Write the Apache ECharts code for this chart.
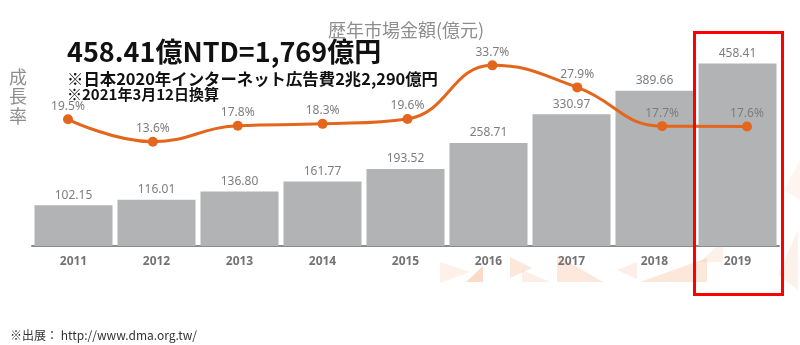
<!DOCTYPE html>
<html>
<head>
<meta charset="utf-8">
<script src="https://cdn.jsdelivr.net/npm/echarts@6/dist/echarts.min.js"></script>
<style>
  html, body { margin: 0; padding: 0; background: #ffffff; }
  #chart { width: 800px; height: 345px; }
</style>
</head>
<body>
<div id="chart"></div>
<script>
// Annual market size (100M NTD) and year-on-year growth rate (%)
const years = ['2011', '2012', '2013', '2014', '2015', '2016', '2017', '2018', '2019'];
const marketSize = [102.15, 116.01, 136.80, 161.77, 193.52, 258.71, 330.97, 389.66, 458.41];
const growthRate = [19.5, 13.6, 17.8, 18.3, 19.6, 33.7, 27.9, 17.7, 17.6];

const headline = '458.41億NTD=1,769億円';
const note1 = '※日本2020年インターネット広告費2兆2,290億円';
const note2 = '※2021年3月12日換算';
const sourceText = '※出展： http://www.dma.org.tw/';

const chart = echarts.init(document.getElementById('chart'), null, { renderer: 'canvas' });

const labelFont = '"Noto Sans", "Open Sans", sans-serif';
const cjkFont = '"Noto Sans CJK JP", "Noto Sans", sans-serif';

// faint decorative triangles along the bottom right
const tri = (pts, op) => ({
  type: 'polygon',
  silent: true,
  z: -1,
  shape: { points: pts },
  style: { fill: '#f2a070', opacity: op }
});

chart.setOption({
  animation: false,
  backgroundColor: '#ffffff',
  title: {
    text: '歴年市場金額(億元)',
    left: 323,
    top: 16,
    textStyle: { fontFamily: cjkFont, fontSize: 18, fontWeight: 'normal', color: '#8e8e8e' }
  },
  grid: [
    { left: 32, right: 21, top: 7, bottom: 99 },
    { left: 68, right: 53, top: 41.4, bottom: 151.6 }
  ],
  xAxis: [
    {
      type: 'category',
      gridIndex: 0,
      data: years,
      axisLine: { lineStyle: { color: '#8c8c8c', width: 2 } },
      axisTick: { show: false },
      axisLabel: { margin: 10, fontFamily: labelFont, fontSize: 12, fontWeight: 'bold', color: '#737373' }
    },
    {
      type: 'category',
      gridIndex: 1,
      data: years,
      boundaryGap: false,
      show: false
    }
  ],
  yAxis: [
    { type: 'value', gridIndex: 0, min: 0, max: 600, show: false, splitLine: { show: false } },
    { type: 'value', gridIndex: 1, min: 0, max: 40, show: false, splitLine: { show: false } }
  ],
  series: [
    {
      name: '市場金額',
      type: 'bar',
      xAxisIndex: 0,
      yAxisIndex: 0,
      data: marketSize,
      barCategoryGap: '6%',
      itemStyle: { color: '#b2b3b5' },
      label: {
        show: true,
        position: 'top',
        distance: 4,
        fontFamily: labelFont,
        fontSize: 12,
        color: '#7d7d7d',
        formatter: p => p.value.toFixed(2)
      }
    },
    {
      name: '成長率',
      type: 'line',
      xAxisIndex: 1,
      yAxisIndex: 1,
      data: growthRate,
      smooth: 0.45,
      symbol: 'circle',
      symbolSize: 10,
      lineStyle: { color: '#e4661c', width: 3 },
      itemStyle: { color: '#e4661c' },
      label: {
        show: true,
        position: 'top',
        distance: 2,
        fontFamily: labelFont,
        fontSize: 12,
        color: '#7d7d7d',
        formatter: p => p.value.toFixed(1) + '%'
      },
      z: 5
    }
  ],
  graphic: [
    tri([[440, 262], [470, 272], [440, 283]], 0.15),
    tri([[483, 266], [483, 282], [466, 282]], 0.38),
    tri([[510, 257], [532, 268], [510, 278]], 0.25),
    tri([[522, 270], [550, 282], [522, 282]], 0.17),
    tri([[557, 255], [557, 282], [603, 282]], 0.24),
    tri([[637, 262], [637, 279], [617, 270]], 0.17),
    tri([[707, 258], [707, 282], [640, 282]], 0.25),
    tri([[723, 240], [723, 262], [700, 262]], 0.15),
    tri([[800, 160], [800, 200], [784, 190]], 0.1),
    tri([[798, 230], [798, 290], [778, 275]], 0.14),
    {
      type: 'text',
      left: 67,
      top: 38,
      style: { text: headline, font: 'bold 27px ' + cjkFont, fill: '#111111' }
    },
    {
      type: 'text',
      left: 67,
      top: 71,
      style: { text: note1, font: 'bold 16.4px ' + cjkFont, fill: '#111111' }
    },
    {
      type: 'text',
      left: 67,
      top: 87,
      style: { text: note2, font: 'bold 15px ' + cjkFont, fill: '#111111' }
    },
    {
      type: 'text',
      left: 9,
      top: 67,
      style: { text: '成\n長\n率', font: '18px ' + cjkFont, lineHeight: 19.5, fill: '#8e8e8e' }
    },
    {
      type: 'text',
      left: 10,
      top: 329,
      style: { text: sourceText, font: '12px ' + cjkFont, fill: '#333333' }
    },
    {
      type: 'rect',
      z: 10,
      shape: { x: 694.5, y: 32.5, width: 88, height: 262 },
      style: { fill: 'none', stroke: '#ff0000', lineWidth: 3 }
    }
  ]
});
</script>
</body>
</html>
